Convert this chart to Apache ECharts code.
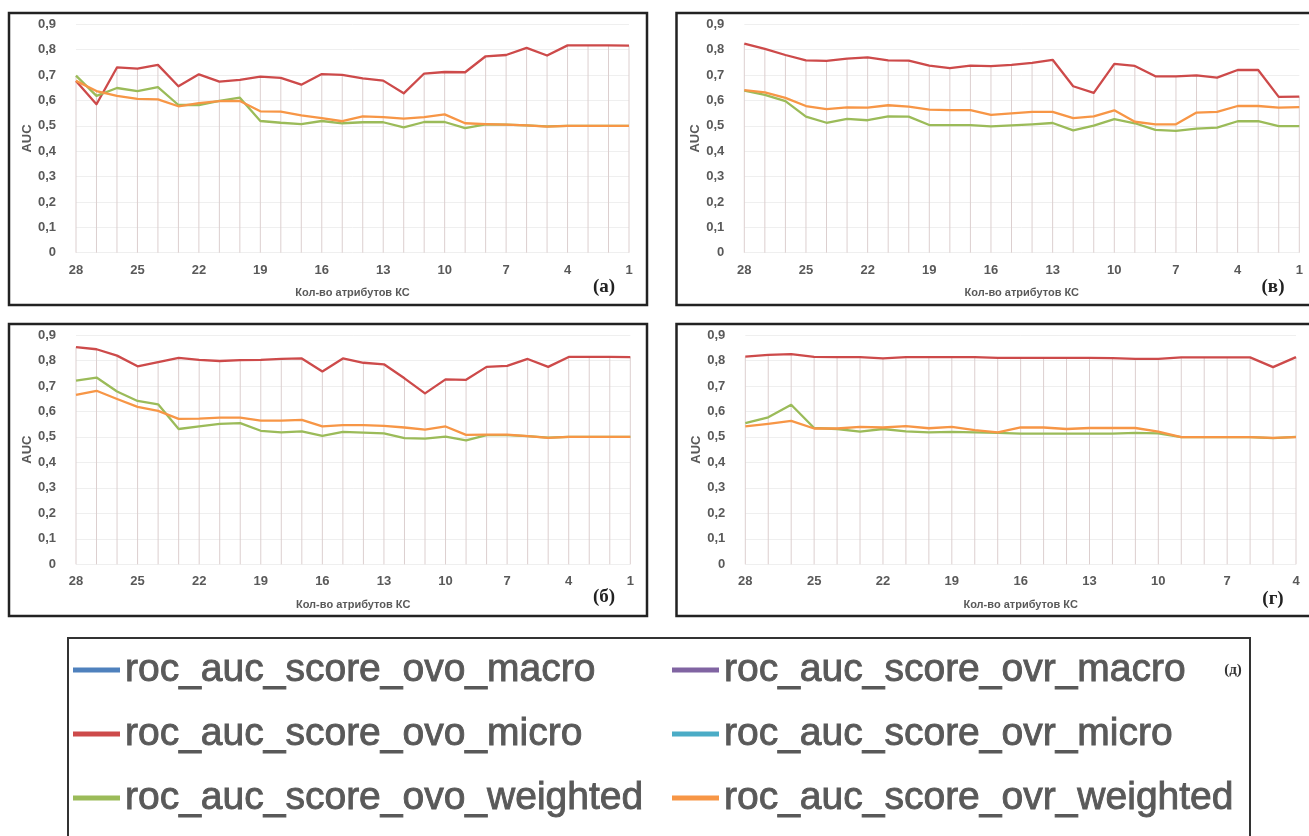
<!DOCTYPE html>
<html><head><meta charset="utf-8">
<script src="https://cdn.jsdelivr.net/npm/echarts@6/dist/echarts.min.js"></script>
<style>html,body{margin:0;padding:0;background:#fff}#c{width:1309px;height:836px}</style>
</head><body><div id="c"></div><script>
// ---- categories / tick labels ----
const categoriesFull = ['28','27','26','25','24','23','22','21','20','19','18','17','16','15','14','13','12','11','10','9','8','7','6','5','4','3','2','1'];
const categoriesShort = ['28','27','26','25','24','23','22','21','20','19','18','17','16','15','14','13','12','11','10','9','8','7','6','5','4'];
const axisXName = 'Кол-во атрибутов КС';
const axisYName = 'AUC';
const seriesNames = ['roc_auc_score_ovo_macro','roc_auc_score_ovo_micro','roc_auc_score_ovo_weighted','roc_auc_score_ovr_macro','roc_auc_score_ovr_micro','roc_auc_score_ovr_weighted'];
const panelLetters = ['(а)','(в)','(б)','(г)'];
const legendLetter = '(д)';

// ---- panel (а) ----
const ovoMicroA = [0.677,0.585,0.730,0.725,0.740,0.656,0.703,0.674,0.681,0.694,0.689,0.662,0.704,0.701,0.687,0.678,0.628,0.706,0.712,0.711,0.774,0.779,0.807,0.777,0.817,0.817,0.817,0.816];
const ovoWeightedA = [0.698,0.618,0.649,0.637,0.652,0.582,0.582,0.598,0.611,0.519,0.512,0.507,0.519,0.510,0.514,0.514,0.494,0.515,0.515,0.491,0.506,0.505,0.502,0.498,0.500,0.500,0.500,0.500];
const ovrWeightedA = [0.677,0.637,0.618,0.606,0.604,0.577,0.589,0.597,0.598,0.557,0.556,0.541,0.530,0.518,0.537,0.534,0.528,0.534,0.545,0.510,0.507,0.505,0.502,0.497,0.500,0.500,0.500,0.500];
// ---- panel (в) ----
const ovoMicroV = [0.824,0.803,0.779,0.758,0.756,0.765,0.770,0.758,0.757,0.737,0.727,0.737,0.735,0.740,0.748,0.760,0.656,0.630,0.744,0.736,0.695,0.695,0.699,0.690,0.720,0.720,0.614,0.615];
const ovoWeightedV = [0.639,0.622,0.597,0.536,0.512,0.527,0.522,0.537,0.536,0.503,0.503,0.503,0.498,0.502,0.506,0.511,0.482,0.501,0.526,0.510,0.484,0.480,0.489,0.493,0.518,0.518,0.499,0.499];
const ovrWeightedV = [0.641,0.632,0.610,0.578,0.566,0.573,0.572,0.581,0.576,0.564,0.562,0.562,0.543,0.549,0.555,0.555,0.530,0.537,0.561,0.516,0.506,0.506,0.552,0.555,0.578,0.578,0.572,0.574];
// ---- panel (б) ----
const ovoMicroB = [0.852,0.844,0.819,0.777,0.794,0.810,0.802,0.798,0.801,0.802,0.806,0.808,0.757,0.808,0.791,0.785,0.730,0.671,0.726,0.724,0.775,0.779,0.806,0.775,0.814,0.814,0.814,0.813];
const ovoWeightedB = [0.721,0.733,0.678,0.641,0.628,0.531,0.541,0.551,0.554,0.524,0.518,0.522,0.504,0.520,0.517,0.514,0.495,0.493,0.501,0.486,0.507,0.507,0.503,0.497,0.500,0.500,0.500,0.500];
const ovrWeightedB = [0.665,0.681,0.649,0.618,0.602,0.571,0.572,0.576,0.576,0.564,0.564,0.567,0.541,0.546,0.546,0.543,0.537,0.529,0.541,0.508,0.509,0.509,0.503,0.496,0.500,0.500,0.500,0.500];
// ---- panel (г) ----
const ovoMicroG = [0.815,0.822,0.825,0.814,0.813,0.813,0.808,0.813,0.813,0.813,0.813,0.810,0.810,0.810,0.810,0.810,0.809,0.806,0.806,0.812,0.812,0.812,0.812,0.774,0.813];
const ovoWeightedG = [0.554,0.577,0.626,0.535,0.531,0.521,0.531,0.522,0.518,0.520,0.518,0.516,0.513,0.513,0.513,0.513,0.513,0.516,0.514,0.499,0.499,0.499,0.499,0.495,0.500];
const ovrWeightedG = [0.541,0.551,0.563,0.533,0.533,0.539,0.537,0.542,0.534,0.539,0.527,0.518,0.537,0.537,0.531,0.535,0.535,0.535,0.521,0.499,0.499,0.499,0.499,0.496,0.499];
// series ovo_macro, ovr_macro, ovr_micro are not visible in the figure (hidden under other lines)
const hiddenSeries = [];

// ---- styling / layout ----
const colors = ['#4F81BD','#CD4A4A','#9BBB59','#8064A2','#4BACC6','#F79646'];
const txtColor = '#595959';
const dropColor = '#dccfcf';

const panels = [
  {cats: categoriesFull, micro: ovoMicroA, weighted: ovoWeightedA, ovrw: ovrWeightedA, grid:{left:76, top:24.3, width:553, height:228.4}, box:[9,13,638,292], letter:[604,287]},
  {cats: categoriesFull, micro: ovoMicroV, weighted: ovoWeightedV, ovrw: ovrWeightedV, grid:{left:744.3, top:24.3, width:555, height:228.4}, box:[676.5,13,640,292], letter:[1273,287]},
  {cats: categoriesFull, micro: ovoMicroB, weighted: ovoWeightedB, ovrw: ovrWeightedB, grid:{left:76, top:335, width:554.3, height:229.3}, box:[9,324,638,292], letter:[604,597]},
  {cats: categoriesShort, micro: ovoMicroG, weighted: ovoWeightedG, ovrw: ovrWeightedG, grid:{left:745.3, top:335, width:550.7, height:229.3}, box:[676.5,324,640,292], letter:[1273,599]}
];

const grids=[], xAxes=[], yAxes=[], series=[], graphics=[];
panels.forEach((p, i) => {
  grids.push(Object.assign({outerBoundsMode:'none', containLabel:false}, p.grid));
  xAxes.push({
    type:'category', gridIndex:i, data:p.cats, boundaryGap:false,
    axisLine:{show:false}, axisTick:{show:false},
    axisLabel:{interval:2, margin:11, color:txtColor, fontFamily:'Liberation Sans', fontWeight:'bold', fontSize:13},
    splitLine:{show:false},
    name:axisXName, nameLocation:'middle', nameGap:35,
    nameTextStyle:{color:txtColor, fontFamily:'Liberation Sans', fontWeight:'bold', fontSize:11}
  });
  yAxes.push({
    type:'value', gridIndex:i, min:0, max:0.9, interval:0.1,
    axisLine:{show:false}, axisTick:{show:false},
    axisLabel:{margin:20, color:txtColor, fontFamily:'Liberation Sans', fontWeight:'bold', fontSize:13,
      formatter: v => v === 0 ? '0' : v.toFixed(1).replace('.', ',')},
    splitLine:{lineStyle:{color:'#efefef', width:1}},
    name:axisYName, nameLocation:'middle', nameGap:42, nameRotate:90,
    nameTextStyle:{color:txtColor, fontFamily:'Liberation Sans', fontWeight:'bold', fontSize:13}
  });
  const drop = p.micro.map((v, k) => Math.max(v, p.weighted[k], p.ovrw[k]));
  series.push({
    type:'custom', xAxisIndex:i, yAxisIndex:i, silent:true, z:1,
    data: drop.map((v, k) => [k, v]),
    renderItem: (params, api) => {
      const a = api.coord([api.value(0), api.value(1)]);
      const b = api.coord([api.value(0), 0]);
      return {type:'line', shape:{x1:a[0], y1:a[1], x2:b[0], y2:b[1]}, style:{stroke:dropColor, lineWidth:1}};
    }
  });
  const dataBySeries = [hiddenSeries, p.micro, p.weighted, hiddenSeries, hiddenSeries, p.ovrw];
  seriesNames.forEach((nm, s) => {
    series.push({
      type:'line', name:nm, xAxisIndex:i, yAxisIndex:i, data:dataBySeries[s],
      showSymbol:false, symbol:'none', z:2, silent:true,
      lineStyle:{color:colors[s], width:2.3, join:'round'}, itemStyle:{color:colors[s]}
    });
  });
  graphics.push({type:'rect', shape:{x:p.box[0], y:p.box[1], width:p.box[2], height:p.box[3]},
    style:{fill:null, stroke:'#222', lineWidth:2.5}, silent:true});
  graphics.push({type:'text', x:p.letter[0], y:p.letter[1],
    style:{text:panelLetters[i], fill:'#222', font:'bold 19px "Liberation Serif"', textAlign:'center', textVerticalAlign:'middle'}});
});
graphics.push({type:'rect', shape:{x:68, y:638, width:1182, height:230}, style:{fill:null, stroke:'#333', lineWidth:2}, silent:true});
graphics.push({type:'text', x:1233, y:670, style:{text:legendLetter, fill:'#333', font:'bold 15px "Liberation Serif"', textAlign:'center', textVerticalAlign:'middle'}});

const legendCommon = {orient:'vertical', padding:0, itemWidth:47, itemHeight:5, itemGap:24, icon:'rect',
  textStyle:{fontFamily:'Liberation Sans', fontSize:39, color:txtColor, lineHeight:40, textBorderColor:txtColor, textBorderWidth:0.9}};
const chart = echarts.init(document.getElementById('c'), null, {renderer:'canvas'});
chart.setOption({
  backgroundColor:'#fff',
  animation:false,
  color:colors,
  grid:grids, xAxis:xAxes, yAxis:yAxes, series:series,
  legend:[
    Object.assign({left:73, top:650, data:seriesNames.slice(0,3)}, legendCommon),
    Object.assign({left:672, top:650, data:seriesNames.slice(3,6)}, legendCommon)
  ],
  graphic:graphics
});
</script></body></html>
